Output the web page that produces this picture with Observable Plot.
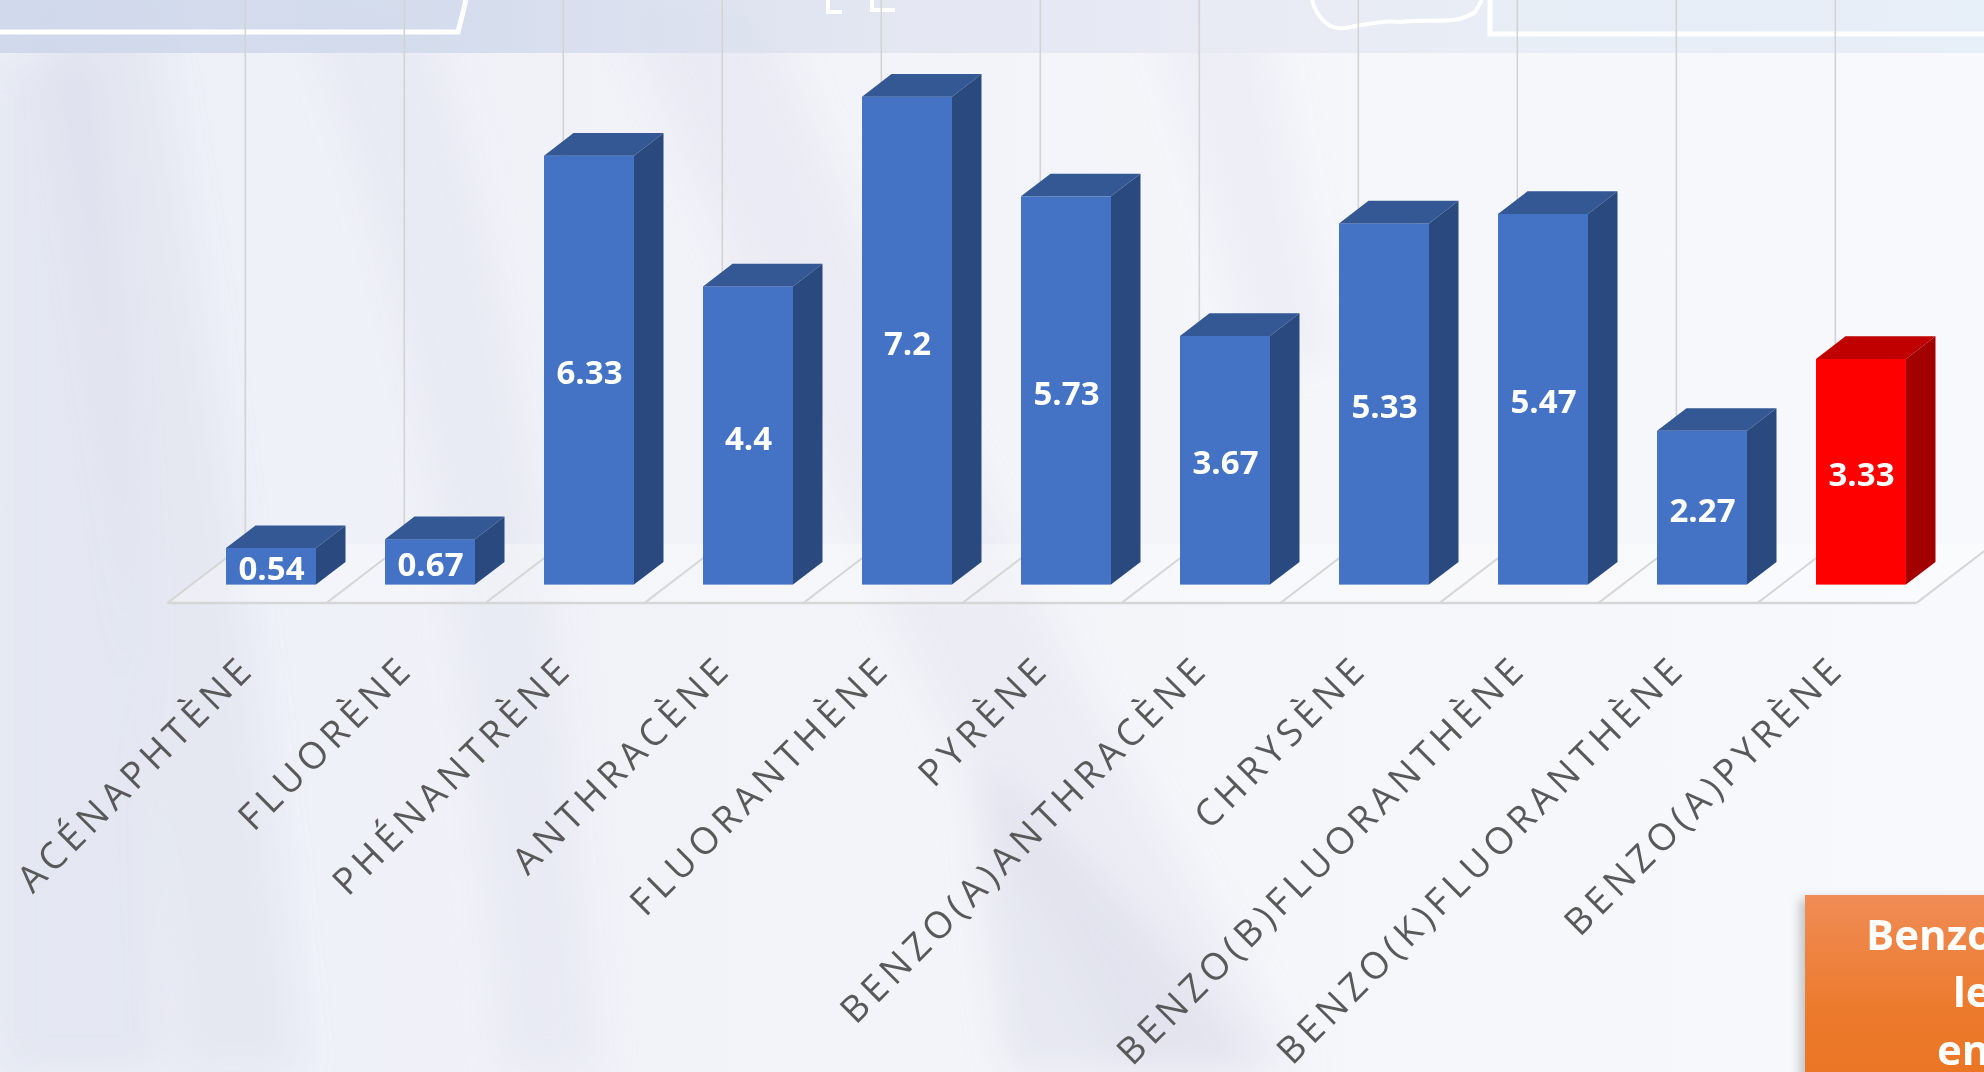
<!DOCTYPE html>
<html>
<head>
<meta charset="utf-8">
<script src="https://cdn.jsdelivr.net/npm/d3@7"></script>
<script src="https://cdn.jsdelivr.net/npm/@observablehq/plot@0.6"></script>
<style>
  html, body { margin: 0; padding: 0; width: 1984px; height: 1072px; overflow: hidden; }
  body { position: relative; background: #f3f5fa; font-family: "Open Sans", sans-serif; }
  #bg { position: absolute; left: 0; top: 0; }
  #chart { position: absolute; left: 0; top: 0; }
  g[aria-description="category-labels"] text { letter-spacing: 5.4px; }
  #note {
    position: absolute; left: 1805px; top: 895px; width: 420px; height: 260px;
    background: linear-gradient(#f08c56, #ec7a2c 45%, #e96f1c);
    box-shadow: -5px 4px 10px rgba(0,0,0,0.22);
  }
  #note span {
    position: absolute; color: #fff; font-weight: 700; font-size: 42px; line-height: 42px;
    font-family: "Open Sans", sans-serif; white-space: nowrap;
  }
</style>
</head>
<body>
<svg id="bg" width="1984" height="1072" viewBox="0 0 1984 1072">
  <defs>
    <linearGradient id="base" x1="0" y1="0" x2="1" y2="0">
      <stop offset="0" stop-color="#eceff7"/>
      <stop offset="0.45" stop-color="#f3f4f9"/>
      <stop offset="1" stop-color="#f8f9fc"/>
    </linearGradient>
    <linearGradient id="band" x1="0" y1="0" x2="1" y2="0">
      <stop offset="0" stop-color="#cdd7ea"/>
      <stop offset="0.25" stop-color="#d3dbec"/>
      <stop offset="0.45" stop-color="#e2e6f1"/>
      <stop offset="0.65" stop-color="#e8ebf4"/>
      <stop offset="1" stop-color="#e4edf8"/>
    </linearGradient>
    <filter id="soft" x="-20%" y="-20%" width="140%" height="140%"><feGaussianBlur stdDeviation="18"/></filter>
  </defs>
  <rect width="1984" height="1072" fill="url(#base)"/>
  <g filter="url(#soft)">
    <path d="M40 0 L150 0 C210 350 260 700 300 1072 L180 1072 C150 700 100 350 40 0 Z" fill="#c7ccdf" opacity="0.22"/>
    <path d="M0 60 L95 60 C120 300 140 600 165 1072 L0 1072 Z" fill="#cdd1e3" opacity="0.25"/>
    <path d="M300 0 L420 0 C520 300 560 600 600 1072 L500 1072 C470 650 420 300 300 0 Z" fill="#dcdfec" opacity="0.35"/>
    <path d="M620 0 L760 0 C900 350 1080 700 1300 1072 L1120 1072 C940 720 780 380 620 0 Z" fill="#d4d5e8" opacity="0.25"/>
    <path d="M980 760 C1080 850 1180 960 1260 1072 L1010 1072 C990 960 980 860 980 760 Z" fill="#cfd0e2" opacity="0.35"/>
    <path d="M1150 0 L1260 0 C1290 150 1310 260 1330 360 L1250 360 C1220 240 1190 120 1150 0 Z" fill="#d8dcea" opacity="0.25"/>
  </g>
  <rect x="0" y="0" width="1984" height="53" fill="url(#band)" opacity="0.9"/>
  <path d="M0 32 H458 L466 0" stroke="#ffffff" stroke-width="5" fill="none"/>
  <path d="M828 0 V12 H842 M872 0 V10 H895" stroke="#ffffff" stroke-width="4" fill="none"/>
  <path d="M1312 0 C1318 20 1330 30 1345 28 C1365 25 1380 20 1400 22 C1430 18 1455 26 1475 12 L1482 0" stroke="#ffffff" stroke-width="4" fill="none"/>
  <path d="M1490 0 V34 H1984" stroke="#ffffff" stroke-width="5" fill="none"/>
</svg>
<div id="chart"></div>
<div id="note"></div>
<script>
// ---- Data ----
const categories = [
  "ACÉNAPHTÈNE", "FLUORÈNE", "PHÉNANTRÈNE", "ANTHRACÈNE", "FLUORANTHÈNE", "PYRÈNE",
  "BENZO(A)ANTHRACÈNE", "CHRYSÈNE", "BENZO(B)FLUORANTHÈNE", "BENZO(K)FLUORANTHÈNE", "BENZO(A)PYRÈNE"
];
const values = [0.54, 0.67, 6.33, 4.4, 7.2, 5.73, 3.67, 5.33, 5.47, 2.27, 3.33];
const highlighted = ["BENZO(A)PYRÈNE"];
const noteLines = ["Benzo", "le", "en"];

// ---- Style ----
const COLORS = {
  normal:    {front: "#4472C4", top: "#345894", side: "#2A497F"},
  highlight: {front: "#FF0000", top: "#C00000", side: "#A30000"}
};
const DEPTH = {dx: 29.5, dy: 22.6};   // bar depth (oblique projection)
const FLOOR = {dx: 23.9, dy: 18.3};   // floor margin in front of / behind the bars

const data = categories.map((c, i) => ({category: c, value: values[i], hl: highlighted.includes(c)}));

// floor of the 3D plot, built from the band scale
function floorMark(index, scales) {
  const x = scales.x, y = scales.y;
  const bw = x.bandwidth(), step = x.step(), gap = (step - bw) / 2;
  const bounds = categories.map(c => x(c) - gap);
  bounds.push(x(categories[categories.length - 1]) + bw + gap);
  const y0 = y(0);
  const fy = y0 + FLOOR.dy, by = y0 - DEPTH.dy - FLOOR.dy;
  const fo = -FLOOR.dx, bo = DEPTH.dx + FLOOR.dx;
  const L = bounds[0], R = bounds[bounds.length - 1];
  const g = d3.create("svg:g").attr("aria-label", "floor");
  g.append("polygon")
    .attr("points", `${L + fo},${fy} ${R + fo},${fy} ${R + bo},${by} ${L + bo},${by}`)
    .attr("fill", "#ffffff").attr("fill-opacity", 0.3);
  for (const b of bounds) {
    g.append("line").attr("x1", b + fo).attr("y1", fy).attr("x2", b + bo).attr("y2", by)
      .attr("stroke", "#d6d6d6").attr("stroke-width", 2);
  }
  g.append("line").attr("x1", L + fo).attr("y1", fy).attr("x2", R + fo).attr("y2", fy)
    .attr("stroke", "#d6d6d6").attr("stroke-width", 2.5);
  return g.node();
}

// top and side faces of each bar
function barFaces(index, scales) {
  const x = scales.x, y = scales.y;
  const bw = x.bandwidth(), y0 = y(0);
  const g = d3.create("svg:g").attr("aria-label", "bar faces");
  for (const d of data) {
    const c = d.hl ? COLORS.highlight : COLORS.normal;
    const x0 = x(d.category), x1 = x0 + bw, yt = y(d.value);
    g.append("polygon")
      .attr("points", [[x0, yt], [x1, yt], [x1 + DEPTH.dx, yt - DEPTH.dy], [x0 + DEPTH.dx, yt - DEPTH.dy]].join(" "))
      .attr("fill", c.top);
    g.append("polygon")
      .attr("points", [[x1, yt], [x1 + DEPTH.dx, yt - DEPTH.dy], [x1 + DEPTH.dx, y0 - DEPTH.dy], [x1, y0]].join(" "))
      .attr("fill", c.side);
  }
  return g.node();
}

const chart = Plot.plot({
  width: 1984,
  height: 1072,
  marginLeft: 156,
  marginRight: 8,
  marginTop: 42.5,
  marginBottom: 487.4,
  style: {background: "transparent", fontFamily: "Open Sans"},
  x: {domain: categories, padding: 0.4347, axis: null},
  y: {domain: [0, 8], axis: null},
  marks: [
    Plot.ruleX(categories, {x: d => d, dx: -26.2, stroke: "#d3d3d3", strokeWidth: 1.6, insetTop: -43, insetBottom: 41}),
    floorMark,
    Plot.barY(data, {x: "category", y: "value", fill: d => d.hl ? COLORS.highlight.front : COLORS.normal.front}),
    barFaces,
    Plot.text(data, {x: "category", y: d => d.value / 2, text: d => String(d.value), dy: 3,
      fill: "white", fontSize: 33, fontWeight: 700, fontFamily: "Open Sans"}),
    Plot.text(categories, {x: d => d, frameAnchor: "bottom", text: d => d, rotate: -45,
      textAnchor: "end", lineAnchor: "middle", dx: -23, dy: 77, fontSize: 37,
      fill: "#595959", fontFamily: "Open Sans", ariaDescription: "category-labels"})
  ]
});
document.getElementById("chart").appendChild(chart);
d3.select(chart).selectAll("text").filter(function () { return categories.includes(this.textContent); })
  .style("letter-spacing", "5.4px");

// orange note box (partially cut off at the page edge, as in the original slide)
const note = d3.select("#note");
const notePos = [[61, 17.7], [148, 74.7], [132, 132.7]];
noteLines.forEach((t, i) => note.append("span").style("left", notePos[i][0] + "px").style("top", notePos[i][1] + "px").text(t));
</script>
</body>
</html>
